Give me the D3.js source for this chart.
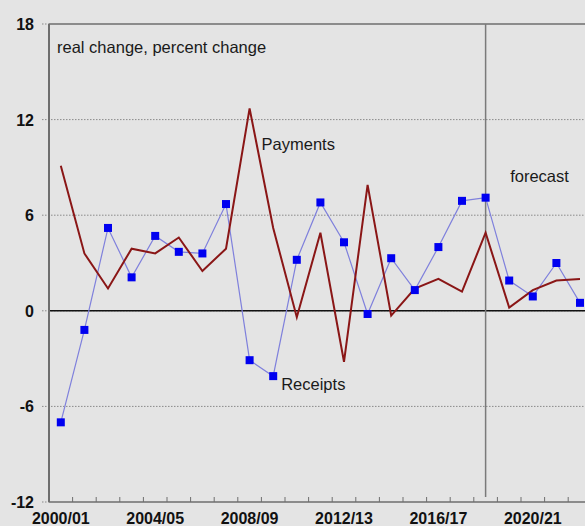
<!DOCTYPE html>
<html>
<head>
<meta charset="utf-8">
<script src="https://cdn.jsdelivr.net/npm/d3@7"></script>
<style>
  html, body { margin: 0; padding: 0; background: #e4e4e4; }
  svg { display: block; font-family: "Liberation Sans", Arial, sans-serif; }
</style>
</head>
<body>
<div id="chart"></div>
<script>
// fiscal years
var years = ["2000/01","2001/02","2002/03","2003/04","2004/05","2005/06","2006/07","2007/08",
             "2008/09","2009/10","2010/11","2011/12","2012/13","2013/14","2014/15","2015/16",
             "2016/17","2017/18","2018/19","2019/20","2020/21","2021/22","2022/23"];
var receipts = [-7.0,-1.2,5.2,2.1,4.7,3.7,3.6,6.7,-3.1,-4.1,3.2,6.8,4.3,-0.2,3.3,1.3,4.0,6.9,7.1,1.9,0.9,3.0,0.5];
var payments = [9.1,3.6,1.4,3.9,3.6,4.6,2.5,3.9,12.7,5.2,-0.4,4.9,-3.2,7.9,-0.3,1.4,2.0,1.2,4.9,0.2,1.3,1.9,2.0];
var yTicks = [-12,-6,0,6,12,18];
var xLabelYears = ["2000/01","2004/05","2008/09","2012/13","2016/17","2020/21"];
var forecastFrom = "2018/19";

function myfun(){
    var width = 585, height = 526;
    var left = 49, top = 24, bottom = 502;
    var bandW = 23.6;

    var svg = d3.select("#chart").append("svg")
                .attr("width", width)
                .attr("height", height);

    var x = d3.scaleBand()
              .domain(years)
              .range([left, left + years.length * bandW])
              .padding(0);
    var y = d3.scaleLinear().domain([-12, 18]).range([bottom, top]);
    var xc = function(d){ return x(d) + x.bandwidth() / 2; };

    // dotted gridlines + little stubs left of axis
    svg.selectAll("line.grid").data(yTicks).enter().append("line")
        .attr("class", "grid")
        .attr("x1", left - 7)
        .attr("x2", function(d){ return (d === -12 || d === 18) ? left : width; })
        .attr("y1", function(d){ return y(d); })
        .attr("y2", function(d){ return y(d); })
        .attr("stroke", "#8a8a8a")
        .attr("stroke-width", 1)
        .attr("stroke-dasharray", "1.5,1.5");

    // top frame
    svg.append("line")
        .attr("x1", left).attr("x2", width)
        .attr("y1", y(18)).attr("y2", y(18))
        .attr("stroke", "#6e6e6e").attr("stroke-width", 1.5);

    // zero line
    svg.append("line")
        .attr("x1", left).attr("x2", width)
        .attr("y1", y(0)).attr("y2", y(0))
        .attr("stroke", "#111").attr("stroke-width", 1.5);

    // forecast divider
    svg.append("line")
        .attr("x1", xc(forecastFrom)).attr("x2", xc(forecastFrom))
        .attr("y1", y(18)).attr("y2", y(-12) - 5)
        .attr("stroke", "#7a7a7a").attr("stroke-width", 1.5);

    // y axis + bottom axis
    svg.append("line")
        .attr("x1", left).attr("x2", left)
        .attr("y1", y(18)).attr("y2", y(-12))
        .attr("stroke", "#6e6e6e").attr("stroke-width", 2);
    svg.append("line")
        .attr("x1", left).attr("x2", width)
        .attr("y1", y(-12)).attr("y2", y(-12))
        .attr("stroke", "#6e6e6e").attr("stroke-width", 1.5);

    // x ticks at band boundaries
    svg.selectAll("line.xtick").data(years.slice(1)).enter().append("line")
        .attr("class", "xtick")
        .attr("x1", function(d){ return x(d); })
        .attr("x2", function(d){ return x(d); })
        .attr("y1", y(-12))
        .attr("y2", y(-12) - 5)
        .attr("stroke", "#6e6e6e").attr("stroke-width", 1);

    // y tick labels
    svg.selectAll("text.ylab").data(yTicks).enter().append("text")
        .attr("class", "ylab")
        .attr("x", left - 15)
        .attr("y", function(d){ return y(d) + 6; })
        .attr("text-anchor", "end")
        .attr("font-size", "16px")
        .attr("font-weight", "bold")
        .attr("fill", "#111")
        .text(function(d){ return d; });

    // x labels
    svg.selectAll("text.xlab").data(xLabelYears).enter().append("text")
        .attr("class", "xlab")
        .attr("x", function(d){ return xc(d); })
        .attr("y", y(-12) + 22)
        .attr("text-anchor", "middle")
        .attr("font-size", "16px")
        .attr("font-weight", "bold")
        .attr("fill", "#111")
        .text(function(d){ return d; });

    var line = d3.line()
        .x(function(d, i){ return xc(years[i]); })
        .y(function(d){ return y(d); });

    // receipts line
    svg.append("path")
        .datum(receipts)
        .attr("d", line)
        .attr("fill", "none")
        .attr("stroke", "#7f80dc")
        .attr("stroke-width", 1.2);

    // payments line
    svg.append("path")
        .datum(payments)
        .attr("d", line)
        .attr("fill", "none")
        .attr("stroke", "#8a1616")
        .attr("stroke-width", 2)
        .attr("stroke-linejoin", "miter");

    // receipts markers
    svg.selectAll("rect.rc").data(receipts).enter().append("rect")
        .attr("class", "rc")
        .attr("x", function(d, i){ return xc(years[i]) - 4; })
        .attr("y", function(d){ return y(d) - 4; })
        .attr("width", 8)
        .attr("height", 8)
        .attr("fill", "#0000f0");

    // annotations
    var ann = [
        {t: "real change, percent change", x: left + 8, y: y(16.2)},
        {t: "Payments", x: xc("2008/09") + 12, y: y(10.1)},
        {t: "Receipts", x: xc("2009/10") + 8, y: y(-5.0)},
        {t: "forecast", x: xc("2019/20") + 1, y: y(8.1)}
    ];
    svg.selectAll("text.ann").data(ann).enter().append("text")
        .attr("class", "ann")
        .attr("x", function(d){ return d.x; })
        .attr("y", function(d){ return d.y; })
        .attr("font-size", "16.5px")
        .attr("fill", "#1a1a1a")
        .text(function(d){ return d.t; });
}
window.onload = myfun;
</script>
</body>
</html>
